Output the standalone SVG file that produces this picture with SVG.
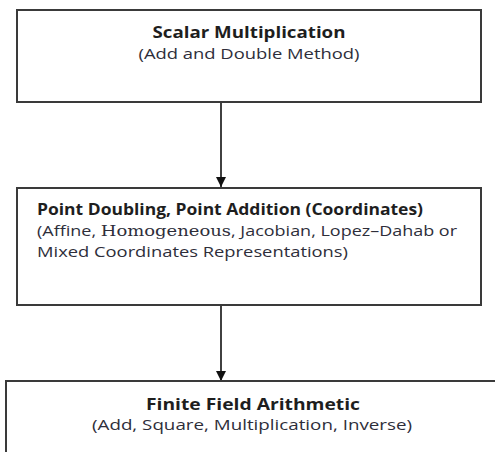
<svg xmlns="http://www.w3.org/2000/svg" width="495" height="452" viewBox="0 0 495 452">
  <defs>
    <marker id="arrow" viewBox="0 0 10 10" refX="10" refY="5" markerWidth="10" markerHeight="10" markerUnits="userSpaceOnUse" orient="auto">
      <path d="M0,0 L10,5 L0,10 Z" fill="#111"/>
    </marker>
  </defs>
  <style>
    .box { fill: #fff; stroke: #3a3a3a; stroke-width: 2; }
    .title { font-family: "Open Sans", "Liberation Sans", sans-serif; font-weight: bold; font-size: 16px; fill: #1e1e1e; }
    .sub { font-family: "Open Sans", "Liberation Sans", sans-serif; font-size: 15px; fill: #2e2e3a; }
    .serif { font-family: "DejaVu Serif", "Liberation Serif", serif; }
    .edge { stroke: #111; stroke-width: 1.6; fill: none; marker-end: url(#arrow); }
  </style>
  <rect width="495" height="452" fill="#fff"/>

  <g id="connectors">
    <line class="edge" x1="221" y1="103" x2="221" y2="187"/>
    <line class="edge" x1="221" y1="306" x2="221" y2="381"/>
  </g>

  <g id="scalar-multiplication">
    <rect class="box" x="17" y="10" width="464" height="92"/>
    <text class="title" x="249" y="38" text-anchor="middle" textLength="193" lengthAdjust="spacingAndGlyphs">Scalar Multiplication</text>
    <text class="sub" x="249" y="59" text-anchor="middle" textLength="221" lengthAdjust="spacingAndGlyphs">(Add and Double Method)</text>
  </g>

  <g id="point-operations">
    <rect class="box" x="17" y="188" width="464" height="117"/>
    <text class="title" x="37" y="215" textLength="386" lengthAdjust="spacingAndGlyphs">Point Doubling, Point Addition (Coordinates)</text>
    <text class="sub" x="37" y="236" textLength="420" lengthAdjust="spacingAndGlyphs">(Affine, <tspan class="serif">Homogeneous</tspan>, Jacobian, Lopez–Dahab or</text>
    <text class="sub" x="37" y="257" textLength="311" lengthAdjust="spacingAndGlyphs">Mixed Coordinates  Representations)</text>
  </g>

  <g id="finite-field-arithmetic">
    <rect class="box" x="6" y="381" width="500" height="100"/>
    <text class="title" x="253" y="410" text-anchor="middle" textLength="214" lengthAdjust="spacingAndGlyphs">Finite Field Arithmetic</text>
    <text class="sub" x="252" y="430" text-anchor="middle" textLength="320" lengthAdjust="spacingAndGlyphs">(Add, Square, Multiplication, Inverse)</text>
  </g>
</svg>
